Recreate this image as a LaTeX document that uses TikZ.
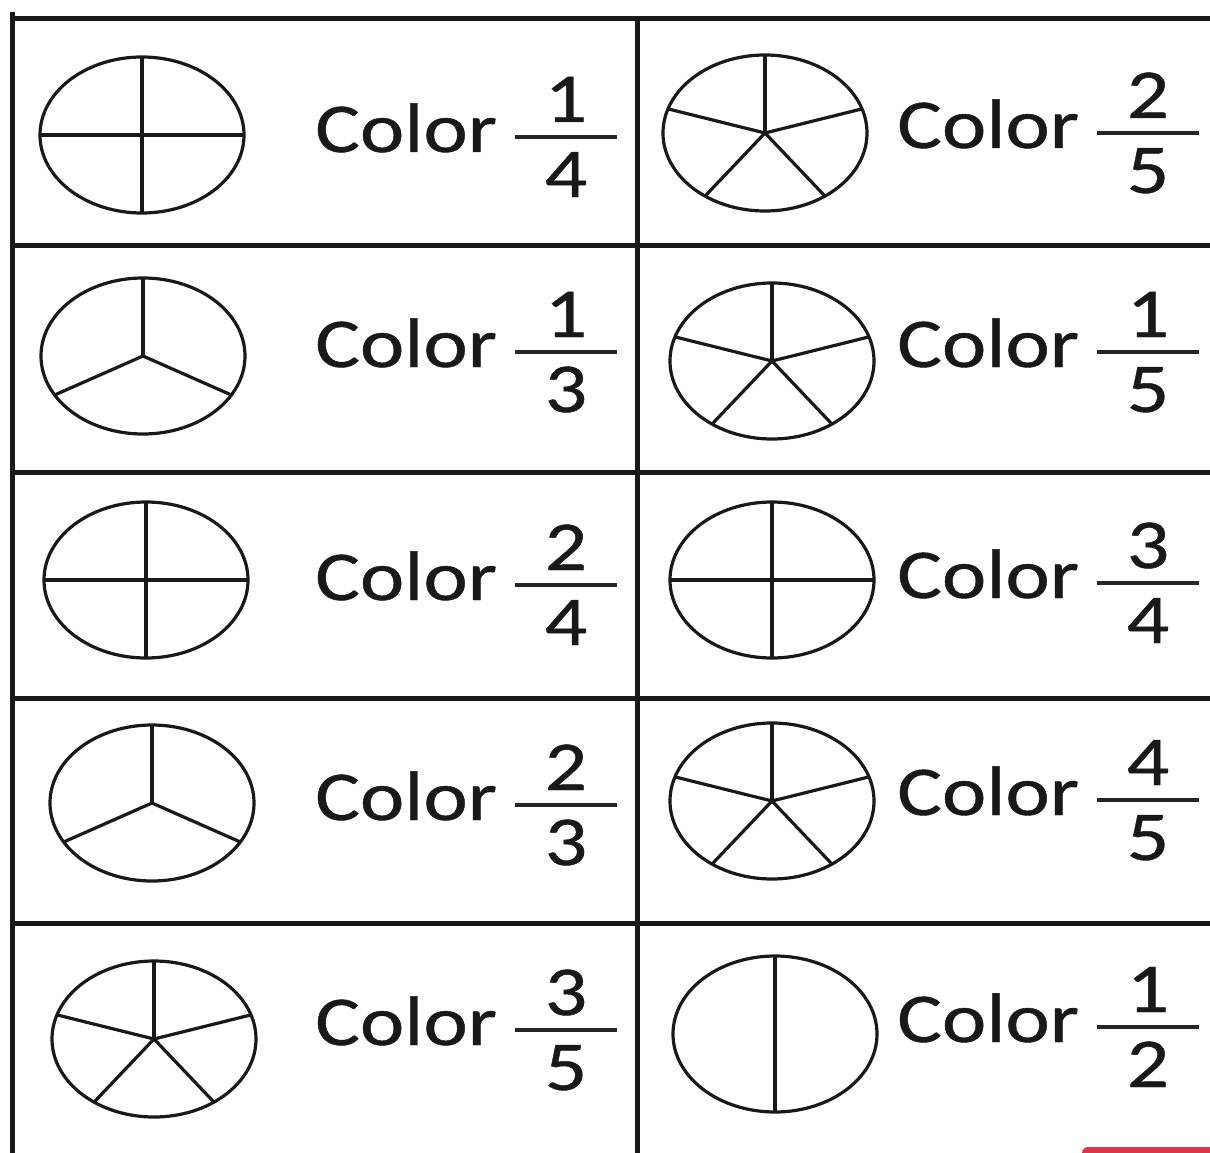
\documentclass[tikz,border=0pt]{standalone}
\usepackage{fontspec}
\setmainfont[FakeStretch=1.2, FakeBold=0.6]{Carlito}
\usetikzlibrary{calc}

\begin{document}
\begin{tikzpicture}[
        x=1pt, y=-1pt,
        rule/.style={line width=5pt, black!90},
        rim/.style={line width=3.2pt, black!90},
        bar/.style={line width=3.4pt, black!85},
        word/.style={font=\fontsize{70}{84}\selectfont, inner sep=0pt, anchor=base west, text=black!90},
        digit/.style={font=\fontsize{70}{84}\selectfont, inner sep=0pt, anchor=base, text=black!90}
    ]
        \clip (0,0) rectangle (1210,1153);
        \fill[white] (0,0) rectangle (1210,1153);

        % table rules
        \draw[rule] (12,12) -- (12,1160);
        \draw[rule] (637,19) -- (637,1160);
        \foreach \ry in {19,245,472,698,923}
            \draw[rule] (10,\ry) -- (1215,\ry);

        % one cell: pie centre, parts, label x, fraction x, bar y, numerator, denominator
        \foreach \cx/\cy/\n/\lx/\fx/\by/\a/\b [count=\i] in {
                142/135/4/315/566/137/1/4,  765/133/5/897/1148/133/2/5,
                143/356/3/315/566/352/1/3,  772/361/5/897/1148/352/1/5,
                146/580/4/315/566/585/2/4,  772/580/4/897/1148/583/3/4,
                152/803/3/315/566/805/2/3,  772/801/5/897/1148/800/4/5,
                154/1039/5/315/566/1030/3/5, 775/1034/2/897/1148/1027/1/2} {
            \coordinate (pie\i) at (\cx,\cy);
            \draw[rim] (pie\i) ellipse [x radius=102, y radius=78];
            \foreach \k [evaluate=\k as \ang using {90+360*(\k-1)/\n}] in {1,...,\n}
                \draw[rim] (pie\i) -- ++({102*cos(\ang)},{-78*sin(\ang)});

            \node[word] (lbl\i) at (\lx,\by+15) {Color};
            \node[digit] (num\i) at (\fx,\by-15) {\a};
            \node[digit] (den\i) at (\fx,\by+60) {\b};
            \draw[bar] (\fx-51,\by) -- (\fx+51,\by);
        }

        % cut-off tab at the lower right
        \fill[rounded corners=6pt, fill={rgb,255:red,217;green,56;blue,78}] (1082,1147) rectangle (1230,1175);
    \end{tikzpicture}
\end{document}
